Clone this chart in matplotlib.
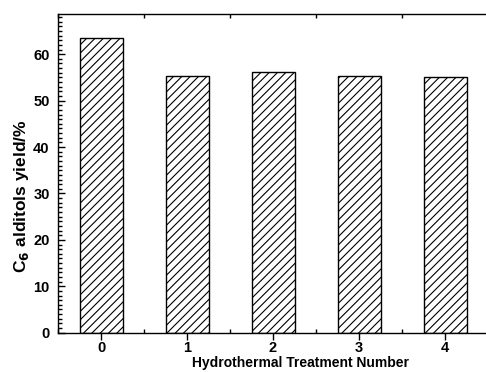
import matplotlib
matplotlib.use("Agg")
import matplotlib.pyplot as plt
from matplotlib.ticker import MultipleLocator

plt.rcParams['font.family'] = ['Liberation Sans', 'DejaVu Sans']
plt.rcParams['font.weight'] = 'bold'
plt.rcParams['mathtext.default'] = 'bf'
plt.rcParams['hatch.linewidth'] = 0.8

treatments = [0, 1, 2, 3, 4]
yields = [63.4, 55.3, 56.1, 55.3, 55.0]

fig = plt.figure(figsize=(4.86, 3.72), dpi=100)
ax = fig.add_axes([58 / 486, 1 - 332.7 / 372, 430 / 486, (332.7 - 14.3) / 372])

ax.bar(treatments, yields, width=0.5, color='white', edgecolor='black',
       linewidth=1.0, hatch='////')

ax.set_xlim(-0.5, 4.5)
ax.set_ylim(0, 68.6)

ax.xaxis.set_major_locator(MultipleLocator(1))
ax.xaxis.set_minor_locator(MultipleLocator(0.5))
ax.yaxis.set_major_locator(MultipleLocator(10))
ax.yaxis.set_minor_locator(MultipleLocator(1))

ax.tick_params(axis='x', which='major', direction='out', length=5, width=1,
               labelsize=10.5, pad=1, top=False)
ax.tick_params(axis='x', which='minor', direction='in', length=3, width=1, top=True)
ax.tick_params(axis='y', which='major', direction='in', length=5, width=1,
               labelsize=10.5, pad=6)
ax.tick_params(axis='y', which='minor', direction='in', length=3, width=1)

for s in ax.spines.values():
    s.set_linewidth(1.0)

ax.set_xlabel('Hydrothermal Treatment Number', fontsize=10, fontweight='bold')
ax.xaxis.set_label_coords(0.563, -0.073)
ax.set_ylabel('C$_6$ alditols yield/%', fontsize=12.5, fontweight='bold')
ax.yaxis.set_label_coords(-0.062, 0.43)

fig.savefig('out.png', dpi=100)
